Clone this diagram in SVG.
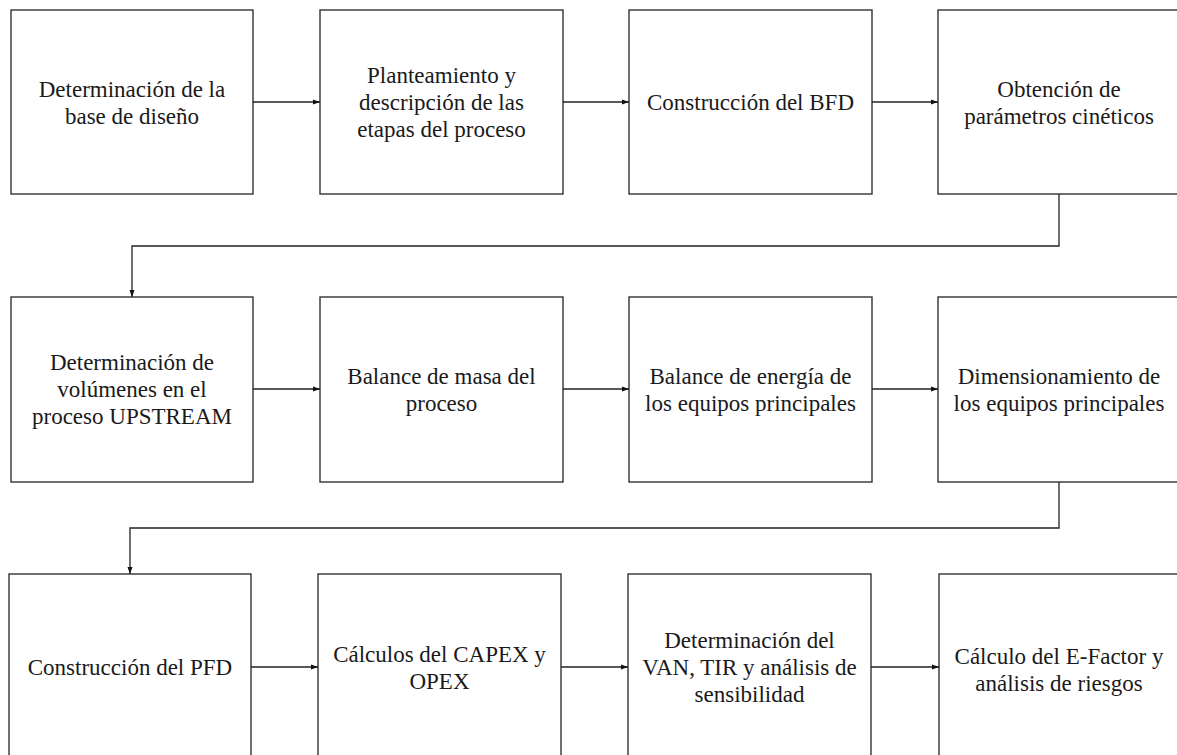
<svg xmlns="http://www.w3.org/2000/svg" width="1177" height="755" viewBox="0 0 1177 755">
  <style>
    .box { fill: #ffffff; stroke: #333333; stroke-width: 1.4; }
    .lbl { font-family: "Liberation Serif", "Times New Roman", serif; font-size: 23px; fill: #1a1a1a; text-anchor: middle; }
    .conn { fill: none; stroke: #222222; stroke-width: 1.3; marker-end: url(#arrow); }
  </style>
  <defs>
    <marker id="arrow" markerUnits="userSpaceOnUse" markerWidth="8" markerHeight="6" refX="7" refY="3" orient="auto">
      <path d="M0,0.5 L7,3 L0,5.5 z" fill="#111111"/>
    </marker>
  </defs>
  <rect width="1177" height="755" fill="#ffffff"/>

  <!-- Row 1 -->
  <g id="n-base-diseno">
    <rect class="box" x="11" y="10" width="242" height="184"/>
    <text class="lbl" x="132" y="97">Determinación de la<tspan x="132" dy="27">base de diseño</tspan></text>
  </g>
  <g id="n-etapas">
    <rect class="box" x="320" y="10" width="243" height="184"/>
    <text class="lbl" x="441.5" y="83">Planteamiento y<tspan x="441.5" dy="27">descripción de las</tspan><tspan x="441.5" dy="27">etapas del proceso</tspan></text>
  </g>
  <g id="n-bfd">
    <rect class="box" x="629" y="10" width="243" height="184"/>
    <text class="lbl" x="750.5" y="110">Construcción del BFD</text>
  </g>
  <g id="n-cineticos">
    <rect class="box" x="938" y="10" width="243" height="184"/>
    <text class="lbl" x="1059" y="97">Obtención de<tspan x="1059" dy="27">parámetros cinéticos</tspan></text>
  </g>

  <!-- Row 2 -->
  <g id="n-volumenes">
    <rect class="box" x="11" y="297" width="242" height="185"/>
    <text class="lbl" x="132" y="370">Determinación de<tspan x="132" dy="27">volúmenes en el</tspan><tspan x="132" dy="27">proceso UPSTREAM</tspan></text>
  </g>
  <g id="n-masa">
    <rect class="box" x="320" y="297" width="243" height="185"/>
    <text class="lbl" x="441.5" y="384">Balance de masa del<tspan x="441.5" dy="27">proceso</tspan></text>
  </g>
  <g id="n-energia">
    <rect class="box" x="629" y="297" width="243" height="185"/>
    <text class="lbl" x="750.5" y="384">Balance de energía de<tspan x="750.5" dy="27">los equipos principales</tspan></text>
  </g>
  <g id="n-dimensionamiento">
    <rect class="box" x="938" y="297" width="243" height="185"/>
    <text class="lbl" x="1059" y="384">Dimensionamiento de<tspan x="1059" dy="27">los equipos principales</tspan></text>
  </g>

  <!-- Row 3 -->
  <g id="n-pfd">
    <rect class="box" x="9" y="574" width="242" height="186"/>
    <text class="lbl" x="130" y="675">Construcción del PFD</text>
  </g>
  <g id="n-capex">
    <rect class="box" x="318" y="574" width="243" height="186"/>
    <text class="lbl" x="439.5" y="662">Cálculos del CAPEX y<tspan x="439.5" dy="27">OPEX</tspan></text>
  </g>
  <g id="n-van-tir">
    <rect class="box" x="628" y="574" width="243" height="186"/>
    <text class="lbl" x="749.5" y="648">Determinación del<tspan x="749.5" dy="27">VAN, TIR y análisis de</tspan><tspan x="749.5" dy="27">sensibilidad</tspan></text>
  </g>
  <g id="n-efactor">
    <rect class="box" x="939" y="574" width="243" height="186"/>
    <text class="lbl" x="1059" y="664">Cálculo del E-Factor y<tspan x="1059" dy="27">análisis de riesgos</tspan></text>
  </g>

  <!-- Connectors -->
  <g id="connectors">
    <path class="conn" d="M253,102 H320"/>
    <path class="conn" d="M563,102 H629"/>
    <path class="conn" d="M872,102 H938"/>
    <path class="conn" d="M1059,194 V246 H132 V297"/>
    <path class="conn" d="M253,389 H320"/>
    <path class="conn" d="M563,389 H629"/>
    <path class="conn" d="M872,389 H938"/>
    <path class="conn" d="M1059,482 V528 H130 V574"/>
    <path class="conn" d="M251,667 H318"/>
    <path class="conn" d="M561,667 H628"/>
    <path class="conn" d="M871,667 H939"/>
  </g>
</svg>
